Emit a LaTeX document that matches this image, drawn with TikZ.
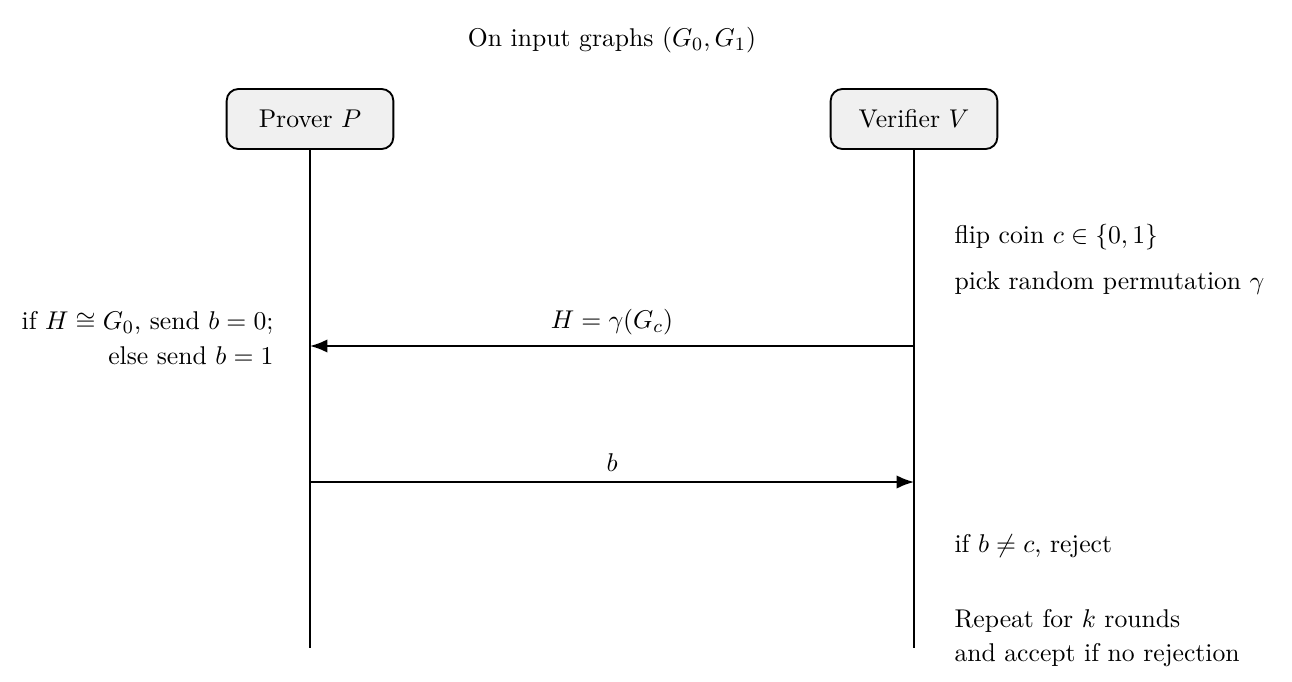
\documentclass[tikz,border=0pt,11pt]{standalone}
\usetikzlibrary{arrows.meta, positioning}
\definecolor{cbox}{HTML}{F0F0F0}
\tikzset{
  every picture/.style={line width=0.8pt},
  actor/.style={draw, fill=cbox, rounded corners=5pt, minimum width=2.5cm, minimum height=0.9cm, inner sep=5pt},
  life/.style={draw, line width=0.8pt},
  msg/.style={-{Latex[length=2.6mm, width=2mm]}, line width=0.8pt},
  note/.style={align=left, anchor=west},
}
\begin{document}
\begin{tikzpicture}[x=0.015cm, y=-0.015cm]
  \useasboundingbox (0,0) rectangle (1292,682);
  % title
  \node (title) at (612,40) {On input graphs $(G_0, G_1)$};
  % actors and lifelines
  \node[actor] (p) at (310,119) {Prover $P$};
  \node[actor] (v) at (914,119) {Verifier $V$};
  \coordinate (pend) at (310,648);
  \coordinate (vend) at (914,648);
  \foreach \a/\b in {p/pend, v/vend} \draw[life] (\a.south) -- (\b);
  % messages
  \coordinate (v1) at (914,346);
  \coordinate (p1) at (310,346);
  \coordinate (p2) at (310,482);
  \coordinate (v2) at (914,482);
  \draw[msg] (v1) -- node[above=0.5pt] (m1) {$H = \gamma(G_c)$} (p1);
  \draw[msg] (p2) -- node[above=0.5pt] (m2) {$b$} (v2);
  % prover side
  \node[align=right, anchor=east] (pnote) at (283,338)
    {if $H \cong G_0$, send $b = 0$;\\[1pt]else send $b = 1$};
  % verifier side
  \node[note] (coin) at (945,237) {flip coin $c \in \{0, 1\}$};
  \node[note] (perm) at (945,283) {pick random permutation $\gamma$};
  \node[note] (rej) at (945,546) {if $b \neq c$, reject};
  \node[note] (rep) at (945,638) {Repeat for $k$ rounds\\[1pt]and accept if no rejection};
\end{tikzpicture}
\end{document}
